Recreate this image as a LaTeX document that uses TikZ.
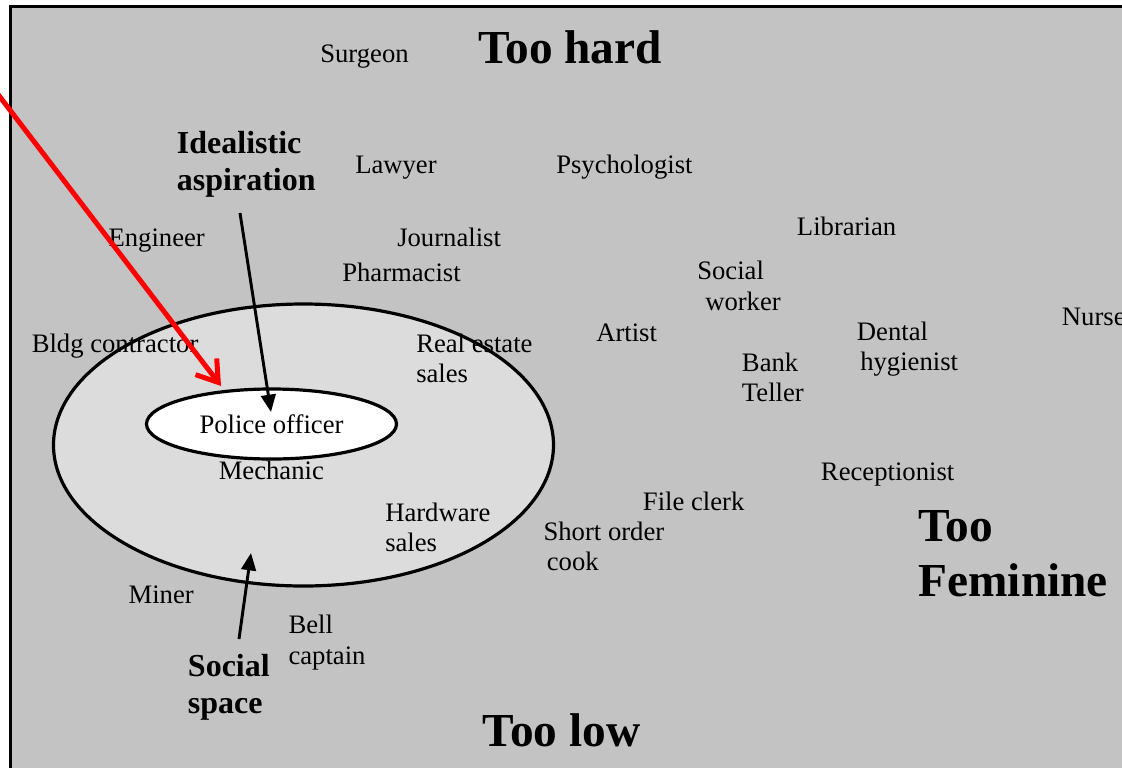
\documentclass[tikz,border=0pt]{standalone}
\usepackage{fontspec}
\setmainfont{Liberation Serif}
\usetikzlibrary{shapes.geometric,arrows.meta}
\definecolor{bggray}{HTML}{C3C3C3}
\definecolor{ringgray}{HTML}{DCDCDC}
\begin{document}
\begin{tikzpicture}[x=0.75pt,y=-0.75pt,
  job/.style={anchor=base west,inner sep=0pt,align=left,font=\fontsize{20}{23}\selectfont},
  lbl/.style={anchor=base west,inner sep=0pt,align=left,font=\bfseries\fontsize{24}{27.5}\selectfont},
  big/.style={anchor=base west,inner sep=0pt,align=left,font=\bfseries\fontsize{35.5}{41.25}\selectfont},
  ring/.style={ellipse,draw=black,line width=2.4pt,inner sep=0pt},
  blk/.style={line width=2.2pt,-{Triangle[length=13pt,width=11pt]}},
  redarrow/.style={draw=red,line width=3.75pt,-{Straight Barb[length=15pt,width=20pt]}}]
\useasboundingbox (0,0) rectangle (1122,768);
% frame
\fill[bggray] (10.5,6.5) rectangle (1140,790);
\draw[line width=2.25pt] (10.5,6.5) rectangle (1140,790);
% social space ellipses
\node[ring,fill=ringgray,minimum width=375pt,minimum height=211.5pt] (space) at (303.5,445) {};
\node[ring,fill=white,minimum width=187.5pt,minimum height=52.5pt,font=\fontsize{20}{23}\selectfont] (police) at (271.5,424) {Police officer};
% labels (multi-line nodes are placed by the baseline of their last line)
\node[job] (surgeon) at (320,62.7) {Surgeon};
\node[big] (hard) at (478,63.3) {Too hard};
\node[lbl] (asp) at (176.7,190) {Idealistic\\aspiration};
\node[job] (lawyer) at (355,173) {Lawyer};
\node[job] (psych) at (556,173) {Psychologist};
\node[job] (librarian) at (796.7,235) {Librarian};
\node[job] (engineer) at (108.3,246.7) {Engineer};
\node[job] (journalist) at (397,246.7) {Journalist};
\node[job] (pharm) at (342,281.7) {Pharmacist};
\node[job] (socwork) at (697,310) {Social\\\hspace{6pt}worker};
\node[job] (nurse) at (1061.7,325) {Nurse};
\node[job] (artist) at (596,341.7) {Artist};
\node[job] (dental) at (856.7,370.7) {Dental\\\hspace{2.5pt}hygienist};
\node[job] (bldg) at (31.5,352.7) {Bldg contractor};
\node[job] (realestate) at (416,382.7) {Real estate\\sales};
\node[job] (bank) at (741.7,401.7) {Bank\\Teller};
\node[job] (mechanic) at (218.5,479) {Mechanic};
\node[job] (recep) at (820.7,480) {Receptionist};
\node[job] (file) at (642.7,510) {File clerk};
\node[job] (hardware) at (385,551.7) {Hardware\\sales};
\node[job] (short) at (543.3,570.7) {Short order\\\hspace{2.5pt}cook};
\node[big] (fem) at (918.3,596.7) {Too\\Feminine};
\node[job] (miner) at (128.3,603.3) {Miner};
\node[job] (bell) at (288.3,664) {Bell\\captain};
\node[lbl] (social) at (187.7,713.3) {Social\\space};
\node[big] (low) at (482.7,746.7) {Too low};
% arrows
\coordinate (aspStart) at (240,213);
\coordinate (aspEnd) at (271,412);
\coordinate (socStart) at (239,639);
\coordinate (socEnd) at (251,553);
\coordinate (redStart) at (-15,77.4);
\coordinate (redEnd) at (221,386);
\draw[blk] (aspStart) -- (aspEnd);
\draw[blk] (socStart) -- (socEnd);
\draw[redarrow] (redStart) -- (redEnd);
\end{tikzpicture}
\end{document}
